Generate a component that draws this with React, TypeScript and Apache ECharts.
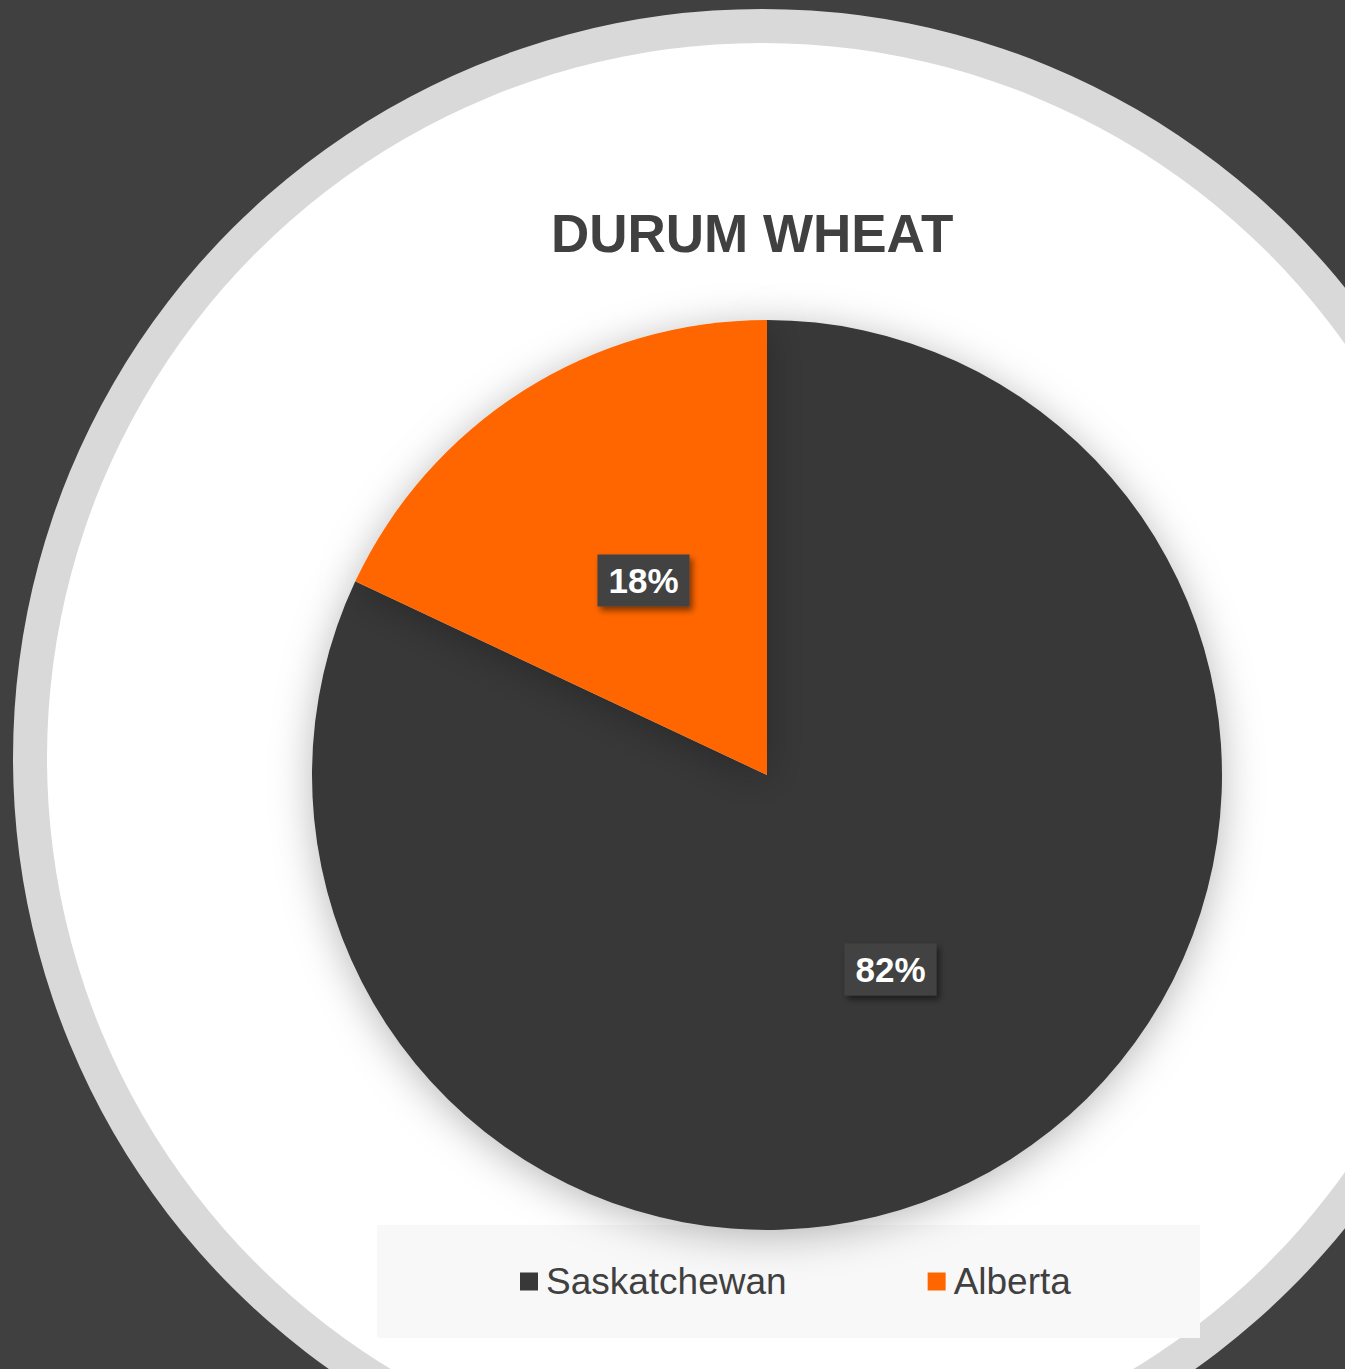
import React, { useEffect, useRef } from "react";
import * as echarts from "echarts";

const categories = ["Saskatchewan", "Alberta"];
const shares = [82, 18];
const sliceColors = ["#383838", "#ff6600"];
const chartTitle = "DURUM WHEAT";

export default function App() {
  const ref = useRef<HTMLDivElement>(null);
  useEffect(() => {
    document.body.style.margin = "0";
    const chart = echarts.init(ref.current!, null, { renderer: "svg" });
    const font = "'Liberation Sans', Arial, sans-serif";
    chart.setOption({
      animation: false,
      backgroundColor: "#404040",
      title: {
        text: chartTitle,
        left: 546,
        top: 202,
        textStyle: { fontFamily: font, fontSize: 53, fontWeight: "bold", color: "#404040" },
      },
      graphic: [
        { type: "circle", z: 0, shape: { cx: 762, cy: 758, r: 749 }, style: { fill: "#d9d9d9" } },
        { type: "circle", z: 0, shape: { cx: 762, cy: 758, r: 715 }, style: { fill: "#ffffff" } },
        { type: "rect", z: 0, shape: { x: 377, y: 1225, width: 823, height: 113 }, style: { fill: "#f8f8f8" } },
      ],
      legend: {
        data: categories,
        left: 520,
        top: 1263,
        padding: 0,
        icon: "rect",
        itemWidth: 18,
        itemHeight: 18,
        itemGap: 141,
        selectedMode: false,
        textStyle: { fontFamily: font, fontSize: 37, color: "#404040", padding: [0, 0, 0, 3] },
      },
      series: [
        {
          type: "pie",
          center: [767, 775],
          radius: 455,
          startAngle: 90,
          clockwise: true,
          z: 2,
          itemStyle: {
            shadowBlur: 40,
            shadowColor: "rgba(0,0,0,0.28)",
            shadowOffsetY: 6,
          },
          label: {
            show: true,
            position: "inside",
            formatter: "{d}%",
            fontFamily: font,
            fontSize: 35,
            fontWeight: "bold",
            color: "#ffffff",
            backgroundColor: "#434343",
            padding: [8, 11],
            lineHeight: 36,
            shadowBlur: 6,
            shadowColor: "rgba(0,0,0,0.5)",
            shadowOffsetX: 3,
            shadowOffsetY: 4,
          },
          labelLine: { show: false },
          emphasis: { disabled: true },
          data: categories.map((name, i) => ({
            name,
            value: shares[i],
            itemStyle: { color: sliceColors[i] },
          })),
        },
      ],
    });
    return () => chart.dispose();
  }, []);
  return <div ref={ref} style={{ position: "absolute", left: 0, top: 0, width: 1345, height: 1369 }} />;
}
